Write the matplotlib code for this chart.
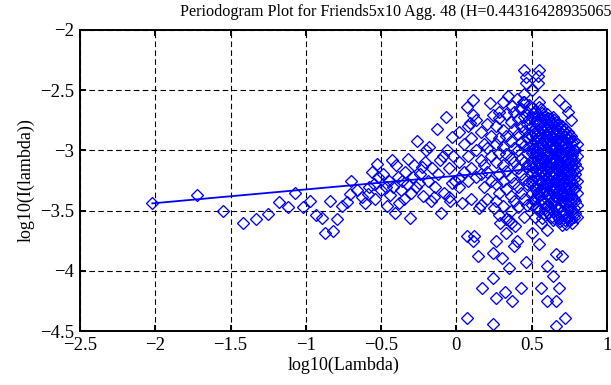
import numpy as np
import matplotlib
matplotlib.use("Agg")
import matplotlib.pyplot as plt

plt.rcParams['font.family'] = ['Liberation Serif', 'DejaVu Serif']

# low frequency points (read one by one)
low_x = [-2.02, -1.72, -1.55, -1.42, -1.33, -1.25, -1.18, -1.12, -1.07, -1.02,
         -0.97, -0.93, -0.89, -0.84, -0.87, -0.82, -0.79, -0.76, -0.73, -0.70,
         -0.71, -0.66, -0.63, -0.61]
low_y = [-3.44, -3.37, -3.50, -3.60, -3.57, -3.53, -3.43, -3.47, -3.35, -3.47,
         -3.42, -3.54, -3.56, -3.42, -3.69, -3.67, -3.57, -3.46, -3.43, -3.25,
         -3.36, -3.33, -3.39, -3.44]

# scattered points from -0.6 to 0.8
mid_x = [-0.59, -0.56, -0.53, -0.52, -0.46, -0.43, -0.40, -0.41, -0.38, -0.36,
         -0.32, -0.31, -0.28, -0.26, -0.25, -0.23, -0.20, -0.18, -0.17, -0.15,
         -0.13, -0.11, -0.10, -0.07, -0.06, -0.03, -0.03,
         -0.58, -0.55, -0.54, -0.50, -0.49, -0.47, -0.45, -0.44, -0.42, -0.39,
         -0.37, -0.35, -0.34, -0.33, -0.30, -0.29, -0.27, -0.24, -0.22, -0.21,
         -0.19, -0.16, -0.14, -0.12, -0.09, -0.08, -0.05, -0.04, -0.02, -0.01,
         0.11, 0.22, 0.07, 0.11, 0.24, 0.28, 0.09, 0.02, -0.05, 0.04,
         0.15, 0.25, 0.28, 0.35, 0.07, 0.11, 0.26, 0.40,
         0.12, 0.14, 0.17, 0.24, 0.26, 0.24, 0.30, 0.32, 0.37, 0.35,
         0.38, 0.43, 0.46, 0.50, 0.33, 0.07, 0.24,
         0.45, 0.55, 0.46, 0.54, 0.46, 0.54, 0.45, 0.50, 0.45, 0.55,
         0.68, 0.72, 0.74, 0.76,
         0.55, 0.56, 0.60, 0.60, 0.64, 0.66, 0.68, 0.70, 0.66, 0.72, 0.66,
         0.31, 0.34, 0.37, 0.40, 0.42, 0.44, 0.36, 0.39, 0.29, 0.33]
mid_y = [-3.36, -3.18, -3.11, -3.22, -3.46, -3.08, -3.12, -3.52, -3.44, -3.25,
         -3.07, -3.56, -3.12, -2.92, -3.27, -3.14, -3.00, -2.97, -3.42, -3.39,
         -2.82, -3.08, -3.52, -2.72, -3.00, -2.89, -3.27,
         -3.30, -3.28, -3.40, -3.33, -3.20, -3.30, -3.25, -3.37, -3.30, -3.22,
         -3.33, -3.40, -3.18, -3.28, -3.35, -3.22, -3.30, -3.20, -3.38, -3.10,
         -3.25, -3.15, -3.30, -3.20, -3.05, -3.35, -3.15, -3.42, -3.05, -3.25,
         -2.58, -2.61, -2.64, -2.71, -2.71, -2.68, -2.77, -3.23, -3.39, -3.44,
         -3.48, -3.48, -3.54, -3.58, -3.71, -3.75, -3.75, -3.75,
         -3.71, -3.88, -4.14, -4.06, -4.23, -3.85, -3.89, -4.18, -4.25, -3.98,
         -3.79, -4.14, -3.93, -3.69, -3.69, -4.39, -4.44,
         -2.33, -2.33, -2.39, -2.38, -2.44, -2.44, -2.53, -2.50, -2.60, -2.60,
         -2.58, -2.63, -2.68, -2.75,
         -3.78, -4.14, -4.25, -3.96, -4.04, -3.86, -4.14, -3.88, -4.25, -4.39, -4.46,
         -2.60, -2.55, -2.63, -2.57, -2.65, -2.60, -3.60, -3.63, -3.60, -3.57]

# dense part, grouped by column of log10(Lambda)
col_x = [0.02, 0.05, 0.08, 0.10, 0.13, 0.16, 0.18, 0.20, 0.23, 0.26,
         0.28, 0.31, 0.33, 0.36, 0.38, 0.41, 0.43, 0.45, 0.47, 0.48,
         0.50, 0.52, 0.54, 0.56, 0.58, 0.60, 0.62, 0.64, 0.66, 0.68,
         0.70, 0.72, 0.74, 0.76, 0.78, 0.80]
col_y = [
    [-2.85, -3.10, -3.30],
    [-2.95, -3.18],
    [-2.80, -3.05, -3.25],
    [-2.90, -3.15, -3.40],
    [-2.75, -3.00, -3.22],
    [-2.85, -3.08, -3.20, -3.45],
    [-2.95, -3.12, -3.30],
    [-2.78, -2.98, -3.18, -3.40],
    [-2.88, -3.05, -3.25],
    [-2.80, -2.95, -3.10, -3.28, -3.42],
    [-2.73, -2.90, -3.02, -3.20, -3.35],
    [-2.83, -2.97, -3.12, -3.25, -3.46],
    [-2.70, -2.88, -3.03, -3.17, -3.32],
    [-2.76, -2.92, -3.06, -3.22, -3.38, -3.50],
    [-2.68, -2.82, -2.98, -3.10, -3.27, -3.42],
    [-2.74, -2.86, -3.00, -3.15, -3.30, -3.47],
    [-2.66, -2.80, -2.93, -3.07, -3.20, -3.35],
    [-2.72, -2.84, -2.96, -3.10, -3.24, -3.40, -3.55],
    [-2.68, -2.78, -2.90, -3.02, -3.14, -3.28, -3.45],
    [-2.62, -2.74, -2.86, -2.98, -3.12, -3.26],
    [-2.65, -2.72, -2.80, -2.88, -2.95, -3.02, -3.10, -3.18, -3.25, -3.35, -3.45],
    [-2.68, -2.76, -2.85, -2.92, -2.98, -3.05, -3.13, -3.22, -3.30, -3.40, -3.55],
    [-2.70, -2.78, -2.83, -2.90, -2.97, -3.04, -3.08, -3.15, -3.20, -3.28, -3.36, -3.48],
    [-2.66, -2.74, -2.81, -2.87, -2.94, -3.00, -3.06, -3.12, -3.19, -3.26, -3.33, -3.42, -3.60],
    [-2.72, -2.79, -2.85, -2.91, -2.97, -3.03, -3.09, -3.15, -3.21, -3.28, -3.35, -3.44, -3.52],
    [-2.70, -2.76, -2.82, -2.88, -2.94, -3.00, -3.05, -3.11, -3.17, -3.23, -3.29, -3.36, -3.45, -3.66],
    [-2.74, -2.80, -2.86, -2.91, -2.96, -3.02, -3.07, -3.13, -3.19, -3.25, -3.31, -3.38, -3.47],
    [-2.72, -2.78, -2.84, -2.89, -2.95, -3.00, -3.06, -3.11, -3.17, -3.22, -3.28, -3.34, -3.41, -3.50, -3.58],
    [-2.76, -2.82, -2.88, -2.93, -2.98, -3.04, -3.09, -3.15, -3.20, -3.26, -3.32, -3.39, -3.46, -3.54],
    [-2.78, -2.84, -2.90, -2.95, -3.00, -3.05, -3.10, -3.16, -3.21, -3.27, -3.33, -3.40, -3.48, -3.56],
    [-2.80, -2.86, -2.91, -2.96, -3.01, -3.06, -3.12, -3.17, -3.23, -3.29, -3.35, -3.42, -3.50, -3.62],
    [-2.82, -2.88, -2.94, -2.99, -3.04, -3.09, -3.14, -3.20, -3.25, -3.31, -3.37, -3.44, -3.52, -3.58],
    [-2.85, -2.91, -2.97, -3.02, -3.07, -3.13, -3.18, -3.24, -3.30, -3.36, -3.42, -3.49, -3.56],
    [-2.88, -2.95, -3.01, -3.07, -3.13, -3.19, -3.25, -3.31, -3.37, -3.43, -3.50, -3.57],
    [-2.92, -3.00, -3.08, -3.16, -3.24, -3.32, -3.40, -3.48, -3.55],
    [-2.95, -3.05, -3.15, -3.25, -3.35, -3.45, -3.55],
]

# second, staggered set of columns in the dense part
col2_x = [0.51, 0.53, 0.55, 0.57, 0.59, 0.61, 0.63, 0.65, 0.67, 0.69,
          0.71, 0.73, 0.75, 0.77, 0.79]
col2_y = [
    [-2.69, -2.84, -2.99, -3.14, -3.29, -3.41],
    [-2.73, -2.88, -3.01, -3.17, -3.33, -3.47],
    [-2.64, -2.77, -2.89, -3.02, -3.11, -3.24, -3.38, -3.50],
    [-2.69, -2.83, -2.95, -3.07, -3.18, -3.31, -3.40, -3.56],
    [-2.75, -2.88, -2.99, -3.08, -3.19, -3.32, -3.48],
    [-2.73, -2.85, -2.93, -3.04, -3.14, -3.27, -3.41, -3.52],
    [-2.77, -2.89, -2.99, -3.10, -3.21, -3.33, -3.44, -3.55],
    [-2.75, -2.86, -2.97, -3.08, -3.19, -3.30, -3.43, -3.56],
    [-2.79, -2.91, -3.01, -3.12, -3.23, -3.35, -3.49],
    [-2.81, -2.92, -3.03, -3.13, -3.24, -3.36, -3.46, -3.59],
    [-2.83, -2.94, -3.04, -3.15, -3.26, -3.38, -3.53],
    [-2.86, -2.97, -3.07, -3.17, -3.28, -3.40, -3.55, -3.61],
    [-2.89, -3.00, -3.10, -3.21, -3.33, -3.46, -3.58],
    [-2.93, -3.04, -3.13, -3.28, -3.39, -3.52, -3.60],
    [-3.00, -3.11, -3.20, -3.30, -3.42, -3.52],
]

# fitted line end points
fit_x = [-2.02, 0.80]
fit_y = [-3.44, -3.12]

title = "Periodogram Plot for Friends5x10 Agg. 48 (H=0.443164289350657)"

pts_x = (low_x + mid_x
         + [x for x, ys in zip(col_x, col_y) for _ in ys]
         + [x for x, ys in zip(col2_x, col2_y) for _ in ys])
pts_y = (low_y + mid_y
         + [y for ys in col_y for y in ys]
         + [y for ys in col2_y for y in ys])

fig = plt.figure(figsize=(6.11, 3.85), dpi=100)
ax = fig.add_axes([80/611, 1-331/385, 527/611, 301/385])

ax.plot(pts_x, pts_y, linestyle='none', marker='D', markersize=6,
        markerfacecolor='none', markeredgecolor='#0000ff', markeredgewidth=0.95)
ax.plot(fit_x, fit_y, color='#0000ff', linewidth=1.3)

ax.set_xlim(-2.5, 1)
ax.set_ylim(-4.5, -2)
ax.set_xticks(np.arange(-2.5, 1.01, 0.5))
ax.set_yticks(np.arange(-4.5, -1.99, 0.5))
ax.set_xticklabels(['\u22122.5', '\u22122', '\u22121.5', '\u22121', '\u22120.5', '0', '0.5', '1'])
ax.set_yticklabels(['\u22124.5', '\u22124', '\u22123.5', '\u22123', '\u22122.5', '\u22122'])
ax.grid(True, color='black', linestyle=(0, (5, 3)), linewidth=0.8)
ax.tick_params(direction='in', length=4, width=1.4, top=True, right=True,
               labelsize=13.5, pad=4)
for s in ax.spines.values():
    s.set_linewidth(1.4)

ax.set_xlabel('log10(Lambda)', fontsize=13, labelpad=2)
ax.set_ylabel('log10(I(lambda))', fontsize=13, labelpad=4)
fig.text(180/611, 1-12/385, title, fontsize=11.6, ha='left', va='center')

fig.savefig('out.png', dpi=100)
